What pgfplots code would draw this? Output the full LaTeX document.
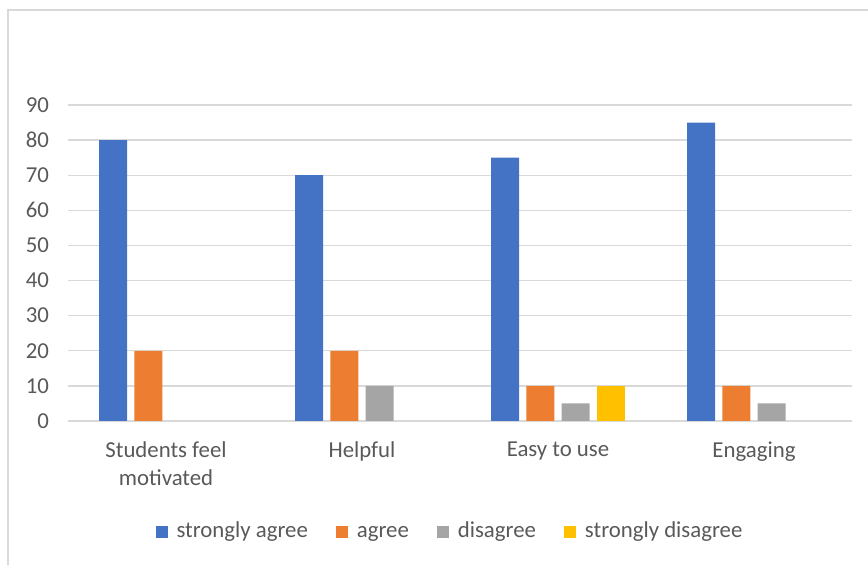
\documentclass[border=0pt]{standalone}
\usepackage{fontspec}
\setmainfont{Carlito}
\usepackage{pgfplots}
\pgfplotsset{compat=1.18}
\definecolor{cBlue}{HTML}{4472C4}
\definecolor{cOrange}{HTML}{ED7D31}
\definecolor{cGrey}{HTML}{A5A5A5}
\definecolor{cYellow}{HTML}{FFC000}
\definecolor{gridc}{HTML}{D9D9D9}
\definecolor{txt}{HTML}{595959}
\begin{document}
\begin{tikzpicture}
\path[use as bounding box] (-34pt,-72pt) rectangle (400pt,210.5pt);
\draw[gridc, line width=0.6pt] (-30pt,-80pt) -- (-30pt,205.5pt) -- (410pt,205.5pt);
\begin{axis}[
  at={(0pt,0pt)}, anchor=south west,
  scale only axis,
  width=392pt, height=158pt,
  ymin=0, ymax=90,
  xmin=-0.5, xmax=3.5,
  ytick={0,10,...,90},
  xtick={0,1,2,3},
  xticklabels={{Students feel\\motivated},{Helpful},{Easy to use},{Engaging}},
  ymajorgrids,
  grid style={gridc, line width=0.7pt},
  axis line style={draw=none},
  major tick length=0pt,
  /pgf/number format/assume math mode=true,
  tick label style={font=\fontsize{11.4}{13.6}\selectfont, text=txt},
  yticklabel style={anchor=east, xshift=-6pt},
  xticklabel style={align=center, anchor=north, yshift=-7pt},
  ybar, bar width=14pt,
  legend columns=4,
  legend style={at={(0.4885,-0.352)}, anchor=center, draw=none, fill=none,
    font=\fontsize{11.4}{13.6}\selectfont, text=txt,
    nodes={text height=1.6ex, text depth=0.45ex},
    /tikz/every even column/.append style={column sep=12pt},
    /tikz/every odd column/.append style={column sep=2.5pt}},
  legend image code/.code={\fill[#1] (0pt,-3pt) rectangle (6pt,3pt);},
]
\addplot[fill=cBlue, draw=none, bar shift=-26.4pt] coordinates {(0,80) (1,70) (2,75) (3,85)};
\addplot[fill=cOrange, draw=none, bar shift=-8.8pt] coordinates {(0,20) (1,20) (2,10) (3,10)};
\addplot[fill=cGrey, draw=none, bar shift=8.8pt] coordinates {(1,10) (2,5) (3,5)};
\addplot[fill=cYellow, draw=none, bar shift=26.4pt] coordinates {(2,10)};
\legend{strongly agree, agree, disagree, strongly disagree}
\end{axis}
\end{tikzpicture}
\end{document}
